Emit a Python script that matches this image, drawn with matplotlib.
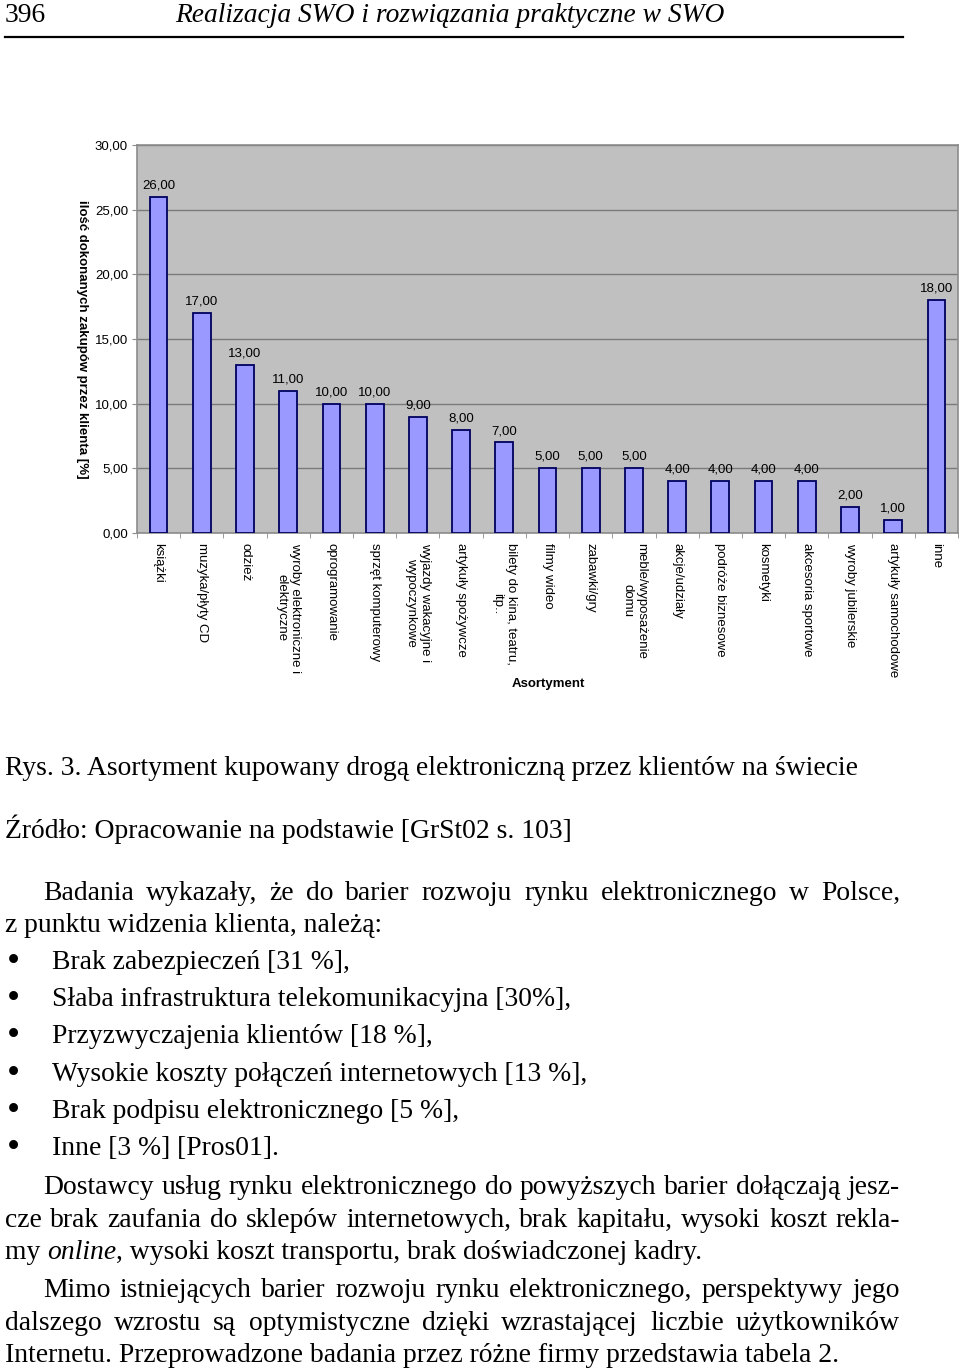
import matplotlib
matplotlib.use("Agg")
import matplotlib.pyplot as plt
from matplotlib.ticker import FuncFormatter, FixedLocator

# ---------------- data ----------------
categories = [
    "książki", "muzyka/płyty CD", "odzież", "wyroby elektroniczne i\nelektryczne",
    "oprogramowanie", "sprzęt komputerowy", "wyjazdy wakacyjne i\nwypoczynkowe",
    "artykuły spożywcze", "bilety do kina, teatru,\nitp..", "filmy wideo",
    "zabawki/gry", "meble/wyposażenie\ndomu", "akcje/udziały", "podróże biznesowe",
    "kosmetyki", "akcesoria sportowe", "wyroby jubilerskie", "artykuły samochodowe",
    "inne",
]
values = [26, 17, 13, 11, 10, 10, 9, 8, 7, 5, 5, 5, 4, 4, 4, 4, 2, 1, 18]
y_ticks = [0, 5, 10, 15, 20, 25, 30]

header_num = "396"
header_title = "Realizacja SWO i rozwiązania praktyczne w SWO"
ylabel = "ilość dokonanych zakupów przez klienta [%]"
xlabel = "Asortyment"
caption = "Rys. 3. Asortyment kupowany drogą elektroniczną przez klientów na świecie"
source = "Źródło: Opracowanie na podstawie [GrSt02 s. 103]"
para1 = ["Badania wykazały, że do barier rozwoju rynku elektronicznego w Polsce,",
         "z punktu widzenia klienta, należą:"]
bullets = ["Brak zabezpieczeń [31 %],",
           "Słaba infrastruktura telekomunikacyjna [30%],",
           "Przyzwyczajenia klientów [18 %],",
           "Wysokie koszty połączeń internetowych [13 %],",
           "Brak podpisu elektronicznego [5 %],",
           "Inne [3 %] [Pros01]."]
para2 = ["Dostawcy usług rynku elektronicznego do powyższych barier dołączają jesz-",
         "cze brak zaufania do sklepów internetowych, brak kapitału, wysoki koszt rekla-"]
para2_last = [("my ", "normal"), ("online", "italic"),
              (", wysoki koszt transportu, brak doświadczonej kadry.", "normal")]
para3 = ["Mimo istniejących barier rozwoju rynku elektronicznego, perspektywy jego",
         "dalszego wzrostu są optymistyczne dzięki wzrastającej liczbie użytkowników",
         "Internetu. Przeprowadzone badania przez różne firmy przedstawia tabela 2."]

# ---------------- figure ----------------
W, H = 960, 1368
fig = plt.figure(figsize=(W / 100, H / 100), dpi=100)
fig.patch.set_facecolor("white")
renderer = fig.canvas.get_renderer()

SERIF = ["Liberation Serif", "DejaVu Serif"]
SANS = ["Liberation Sans", "DejaVu Sans"]


def fx(x):
    return x / W


def fy(y):
    return 1 - y / H


def text_w(s, size, style="normal", family=SERIF):
    t = fig.text(0, 0, s, fontsize=size, fontstyle=style, family=family)
    w = t.get_window_extent(renderer).width
    t.remove()
    return w


def fit_size(s, target, style="normal", family=SERIF):
    return 20 * target / text_w(s, 20, style, family)


# ---------------- chart ----------------
left, right, top, bottom = 137, 958, 145, 533
ax = fig.add_axes([fx(left), fy(bottom), (right - left) / W, (bottom - top) / H])
ax.set_facecolor("#C0C0C0")
x = list(range(len(values)))
ax.bar(x, values, width=0.41, color="#9999FF", edgecolor="#000060",
       linewidth=1.3, zorder=3)
ax.set_xlim(-0.5, len(values) - 0.5)
ax.set_ylim(y_ticks[0], y_ticks[-1])
ax.yaxis.set_major_locator(FixedLocator(y_ticks))
ax.yaxis.set_major_formatter(FuncFormatter(lambda v, p: f"{v:.2f}".replace(".", ",")))
ax.grid(axis="y", color="#7a7a7a", linewidth=1.0, zorder=1)
ax.set_axisbelow(True)
for s in ax.spines.values():
    s.set_color("#8c8c8c")
    s.set_linewidth(1.2)

ax.set_xticks(x)
ax.set_xticklabels(categories, rotation=270, fontsize=9.5, family=SANS,
                   va="top", ha="center", multialignment="center")
ax.set_xticks([i - 0.5 for i in range(len(values) + 1)], minor=True)
ax.tick_params(axis="x", which="major", length=0, pad=7)
ax.tick_params(axis="x", which="minor", length=3.5, color="#8c8c8c", direction="out")
ax.tick_params(axis="y", length=3.5, color="#8c8c8c", pad=3, labelsize=9.5)
for lbl in ax.get_yticklabels():
    lbl.set_family(SANS)

for xi, v in zip(x, values):
    ax.annotate(f"{v:.2f}".replace(".", ","), (xi, v), xytext=(0, 6),
                textcoords="offset points", ha="center", va="baseline",
                fontsize=9.5, family=SANS, zorder=4)

fig.text(fx(82), fy(339), ylabel, rotation=270, ha="center", va="center",
         fontsize=9.5, fontweight="bold", family=SANS)
fig.text(fx(548), fy(684), xlabel, ha="center", va="center",
         fontsize=9.5, fontweight="bold", family=SANS)

# ---------------- header ----------------
hsize = fit_size(header_title, 550, "italic")
fig.text(fx(5), fy(22), header_num, fontsize=hsize, family=SERIF, va="baseline")
fig.text(fx(175), fy(22), header_title, fontsize=hsize, family=SERIF,
         fontstyle="italic", va="baseline")
fig.add_artist(plt.Line2D([fx(5), fx(903)], [fy(37), fy(37)], color="black",
                          linewidth=1.6))

# ---------------- body text ----------------
bsize = fit_size(caption, 853)


def put(s, x0, ybase, style="normal"):
    fig.text(fx(x0), fy(ybase), s, fontsize=bsize, family=SERIF,
             fontstyle=style, va="baseline", ha="left")


def justify(s, x0, x1, ybase):
    words = s.split(" ")
    widths = [text_w(w, bsize) for w in words]
    gap = (x1 - x0 - sum(widths)) / (len(words) - 1)
    xc = x0
    for w, wd in zip(words, widths):
        put(w, xc, ybase)
        xc += wd + gap


put(caption, 5, 775)
put(source, 5, 838)
justify(para1[0], 43, 900, 900)
put(para1[1], 5, 932)

bullet_y = [969, 1006, 1043, 1081, 1118, 1155]
for b, yb in zip(bullets, bullet_y):
    fig.text(fx(13), fy(yb + 3), "•", fontsize=bsize * 1.35, family=SERIF,
             va="baseline", ha="center")
    put(b, 52, yb)

justify(para2[0], 43, 900, 1194)
justify(para2[1], 5, 900, 1227)
xc = 5
for s, st in para2_last:
    put(s, xc, 1259, st)
    core = s.rstrip(" ")
    xc += text_w(core, bsize, st)
    if s.endswith(" "):
        xc += text_w("a a", bsize) - text_w("aa", bsize)

justify(para3[0], 43, 900, 1297)
justify(para3[1], 5, 900, 1330)
put(para3[2], 5, 1362)

fig.savefig("out.png", dpi=100)
